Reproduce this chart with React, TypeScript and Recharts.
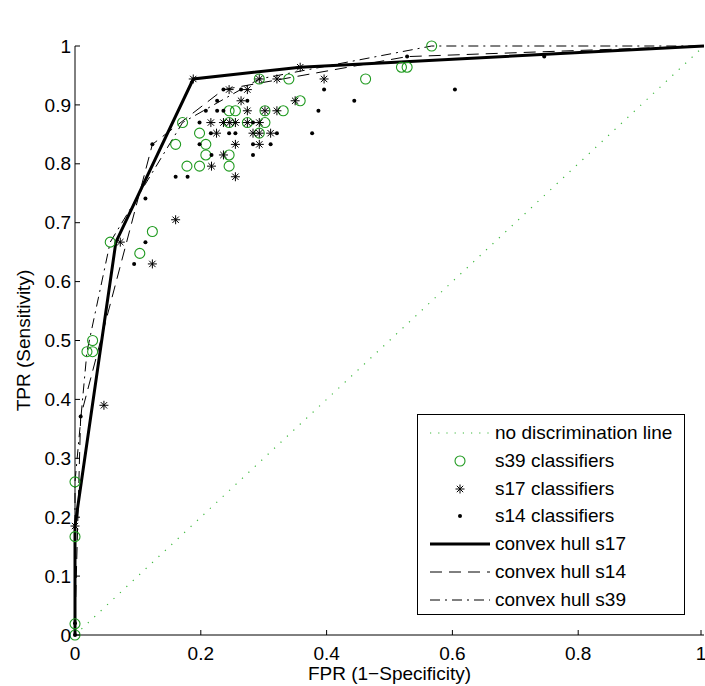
import React from 'react';
import { ComposedChart, Scatter, Line, XAxis, YAxis, Legend } from 'recharts';

const FONT = "'Liberation Sans', Arial, Helvetica, sans-serif";
const GREEN = '#1f9a1f';
const DIAG_GREEN = '#3cb83c';

// axis ticks
const xTicks = [0, 0.2, 0.4, 0.6, 0.8, 1];
const yTicks = [0, 0.1, 0.2, 0.3, 0.4, 0.5, 0.6, 0.7, 0.8, 0.9, 1];

// classifier ROC points, [FPR, TPR]
const s39Classifiers = [
  [0, 0], [0, 0.019], [0, 0.167], [0, 0.26], [0.019, 0.481], [0.028, 0.481], [0.028, 0.5],
  [0.056, 0.667], [0.103, 0.648], [0.123, 0.685], [0.16, 0.833], [0.171, 0.87], [0.178, 0.796],
  [0.198, 0.796], [0.198, 0.852], [0.208, 0.833], [0.208, 0.815], [0.245, 0.815], [0.245, 0.796],
  [0.245, 0.87], [0.274, 0.87], [0.302, 0.87], [0.245, 0.89], [0.255, 0.89], [0.302, 0.89],
  [0.331, 0.89], [0.293, 0.852], [0.293, 0.944], [0.34, 0.944], [0.358, 0.907], [0.462, 0.944],
  [0.519, 0.964], [0.528, 0.964], [0.567, 1],
];

const s17Classifiers = [
  [0, 0.185], [0.046, 0.39], [0.072, 0.667], [0.123, 0.63], [0.16, 0.705], [0.188, 0.944],
  [0.217, 0.796], [0.236, 0.815], [0.255, 0.778], [0.255, 0.833], [0.293, 0.833], [0.225, 0.852],
  [0.283, 0.852], [0.293, 0.852], [0.311, 0.852], [0.216, 0.87], [0.236, 0.87], [0.246, 0.87],
  [0.255, 0.87], [0.274, 0.87], [0.293, 0.87], [0.274, 0.89], [0.302, 0.89], [0.321, 0.89],
  [0.264, 0.907], [0.35, 0.907], [0.245, 0.926], [0.274, 0.926], [0.293, 0.944], [0.321, 0.944],
  [0.358, 0.964], [0.396, 0.944],
];

const s14Classifiers = [
  [0, 0], [0, 0.02], [0.009, 0.371], [0.094, 0.63], [0.112, 0.667], [0.112, 0.741], [0.123, 0.833],
  [0.16, 0.778], [0.179, 0.778], [0.217, 0.815], [0.283, 0.815], [0.198, 0.833], [0.283, 0.833],
  [0.311, 0.833], [0.216, 0.852], [0.245, 0.852], [0.255, 0.852], [0.321, 0.852], [0.377, 0.852],
  [0.198, 0.87], [0.283, 0.87], [0.208, 0.89], [0.226, 0.89], [0.236, 0.89], [0.387, 0.89],
  [0.226, 0.907], [0.274, 0.907], [0.444, 0.907], [0.236, 0.926], [0.264, 0.926], [0.396, 0.926],
  [0.604, 0.926], [0.528, 0.982], [0.746, 0.982],
];

// convex hulls
const hullS17 = [[0, 0], [0, 0.185], [0.065, 0.667], [0.188, 0.944], [0.358, 0.964], [1, 1]];
const hullS14 = [[0, 0], [0, 0.02], [0.009, 0.371], [0.123, 0.833], [0.236, 0.926], [0.528, 0.982], [1, 1]];
const hullS39 = [[0, 0], [0, 0.26], [0.019, 0.481], [0.056, 0.667], [0.171, 0.87], [0.293, 0.944], [0.567, 1], [1, 1]];
const noDiscrimination = [[0, 0], [1, 1]];

const toXY = (pts: number[][]) => pts.map(([x, y]) => ({ x, y }));

const Circle = ({ cx, cy }: any) => <circle cx={cx} cy={cy} r={5} fill="none" stroke={GREEN} strokeWidth={1.1} />;
const Dot = ({ cx, cy }: any) => <circle cx={cx} cy={cy} r={2} fill="#000" />;
const Star = ({ cx, cy }: any) => {
  const r = 4.5;
  const d = r * 0.707;
  return (
    <g stroke="#000" strokeWidth={1}>
      <line x1={cx - r} y1={cy} x2={cx + r} y2={cy} />
      <line x1={cx} y1={cy - r} x2={cx} y2={cy + r} />
      <line x1={cx - d} y1={cy - d} x2={cx + d} y2={cy + d} />
      <line x1={cx - d} y1={cy + d} x2={cx + d} y2={cy - d} />
    </g>
  );
};

const fmt = (v: number) => (v === 0 || v === 1 ? String(v) : String(v));

// MATLAB style: ticks point inward
const BottomTick = ({ x, y, payload }: any) => (
  <g>
    <line x1={x} y1={y} x2={x} y2={y - 5} stroke="#000" />
    <text x={x} y={y + 25} textAnchor="middle" fontSize={19} fontFamily={FONT} fill="#000">{fmt(payload.value)}</text>
  </g>
);
const LeftTick = ({ x, y, payload }: any) => (
  <g>
    <line x1={x + 4} y1={y} x2={x + 9} y2={y} stroke="#000" />
    <text x={x} y={y} dy="0.35em" textAnchor="end" fontSize={19} fontFamily={FONT} fill="#000">{fmt(payload.value)}</text>
  </g>
);
const TopTick = ({ x, y }: any) => <line x1={x} y1={y} x2={x} y2={y + 5} stroke="#000" />;
const RightTick = ({ x, y }: any) => <line x1={x} y1={y} x2={x - 5} y2={y} stroke="#000" />;

const legendRows = [
  { name: 'no discrimination line', kind: 'diag' },
  { name: 's39 classifiers', kind: 'circle' },
  { name: 's17 classifiers', kind: 'star' },
  { name: 's14 classifiers', kind: 'dot' },
  { name: 'convex hull s17', kind: 'solid' },
  { name: 'convex hull s14', kind: 'dash' },
  { name: 'convex hull s39', kind: 'dashdot' },
];

function LegendSample({ kind }: { kind: string }) {
  const y = 14;
  if (kind === 'diag') return <line x1={2} x2={62} y1={y} y2={y} stroke={DIAG_GREEN} strokeDasharray="1.2 7" />;
  if (kind === 'circle') return <Circle cx={32} cy={y} />;
  if (kind === 'star') return <Star cx={32} cy={y} />;
  if (kind === 'dot') return <Dot cx={32} cy={y} />;
  if (kind === 'solid') return <line x1={2} x2={62} y1={y} y2={y} stroke="#000" strokeWidth={3} />;
  if (kind === 'dash') return <line x1={2} x2={62} y1={y} y2={y} stroke="#000" strokeDasharray="12 7" />;
  return <line x1={2} x2={62} y1={y} y2={y} stroke="#000" strokeDasharray="10 5 2 5" />;
}

function LegendBox() {
  return (
    <div style={{ position: 'relative', width: 268, height: 201, border: '1px solid #000', boxSizing: 'border-box', background: '#fff', fontFamily: FONT }}>
      {legendRows.map((r, i) => (
        <div key={r.name} style={{ position: 'absolute', left: 10, top: 4 + i * 27.8, height: 28, display: 'flex', alignItems: 'center' }}>
          <svg width={64} height={28} style={{ display: 'block' }}>
            <LegendSample kind={r.kind} />
          </svg>
          <span style={{ marginLeft: 3, fontSize: 19, color: '#000', whiteSpace: 'nowrap' }}>{r.name}</span>
        </div>
      ))}
    </div>
  );
}

export default function App() {
  return (
    <div style={{ position: 'absolute', left: 0, top: 0, background: '#fff' }}>
      <ComposedChart width={705} height={686} margin={{ top: 46, right: 1, bottom: 0, left: 0 }} style={{ fontFamily: FONT }}>
        <XAxis
          xAxisId="bottom"
          dataKey="x"
          type="number"
          domain={[0, 1]}
          ticks={xTicks}
          height={51}
          tickSize={0}
          tickLine={false}
          tickMargin={0}
          axisLine={{ stroke: '#000' }}
          tick={(p: any) => <BottomTick {...p} />}
          label={{
            content: ({ viewBox }: any) => (
              <text x={viewBox.x + viewBox.width / 2} y={680} textAnchor="middle" fontSize={19} fontFamily={FONT} fill="#000">FPR (1−Specificity)</text>
            ),
          }}
        />
        <XAxis
          xAxisId="top"
          orientation="top"
          dataKey="x"
          type="number"
          domain={[0, 1]}
          ticks={xTicks}
          height={0}
          tickSize={0}
          tickLine={false}
          tickMargin={0}
          axisLine={{ stroke: '#000' }}
          tick={(p: any) => <TopTick {...p} />}
          label={{
            content: ({ viewBox }: any) => (
              <text x={viewBox.x + viewBox.width / 2} y={30} textAnchor="middle" fontSize={19} fontFamily={FONT} fill="#000">Default ARTMAP</text>
            ),
          }}
        />
        <YAxis
          yAxisId="left"
          dataKey="y"
          type="number"
          domain={[0, 1]}
          ticks={yTicks}
          width={75}
          tickSize={0}
          tickLine={false}
          tickMargin={4}
          axisLine={{ stroke: '#000' }}
          tick={(p: any) => <LeftTick {...p} />}
          label={{
            content: ({ viewBox }: any) => {
              const cy = viewBox.y + viewBox.height / 2;
              return (
                <text x={23} y={cy} transform={`rotate(-90, 23, ${cy})`} textAnchor="middle" dominantBaseline="central" fontSize={19} fontFamily={FONT} fill="#000">
                  TPR (Sensitivity)
                </text>
              );
            },
          }}
        />
        <YAxis
          yAxisId="right"
          orientation="right"
          dataKey="y"
          type="number"
          domain={[0, 1]}
          ticks={yTicks}
          width={0}
          tickSize={0}
          tickLine={false}
          tickMargin={0}
          axisLine={{ stroke: '#000' }}
          tick={(p: any) => <RightTick {...p} />}
        />

        <Line xAxisId="bottom" yAxisId="left" data={toXY(noDiscrimination)} dataKey="y" type="linear" stroke={DIAG_GREEN} strokeWidth={1.2} strokeDasharray="1.2 7.6" dot={false} isAnimationActive={false} />
        <Scatter xAxisId="bottom" yAxisId="left" name="s39 classifiers" data={toXY(s39Classifiers)} shape={(p: any) => <Circle {...p} />} isAnimationActive={false} />
        <Scatter xAxisId="bottom" yAxisId="left" name="s17 classifiers" data={toXY(s17Classifiers)} shape={(p: any) => <Star {...p} />} isAnimationActive={false} />
        <Scatter xAxisId="bottom" yAxisId="left" name="s14 classifiers" data={toXY(s14Classifiers)} shape={(p: any) => <Dot {...p} />} isAnimationActive={false} />
        <Line xAxisId="bottom" yAxisId="left" data={toXY(hullS17)} dataKey="y" type="linear" stroke="#000" strokeWidth={3} dot={false} isAnimationActive={false} />
        <Line xAxisId="bottom" yAxisId="left" data={toXY(hullS14)} dataKey="y" type="linear" stroke="#000" strokeWidth={1} strokeDasharray="12 7" dot={false} isAnimationActive={false} />
        <Line xAxisId="bottom" yAxisId="left" data={toXY(hullS39)} dataKey="y" type="linear" stroke="#000" strokeWidth={1} strokeDasharray="10 5 2 5" dot={false} isAnimationActive={false} />

        <Legend
          layout="vertical"
          align="center"
          verticalAlign="middle"
          wrapperStyle={{ left: 417, top: 414, right: 'auto', bottom: 'auto', width: 268, height: 201 }}
          content={() => <LegendBox />}
        />
      </ComposedChart>
    </div>
  );
}
